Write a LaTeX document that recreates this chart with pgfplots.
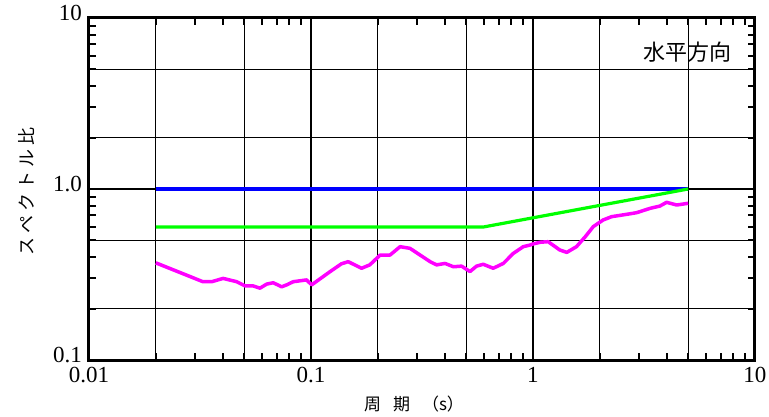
\documentclass[border=0pt]{standalone}
\usepackage{fontspec}
\setmainfont{Liberation Serif}
\newfontfamily\cjk{Noto Sans CJK JP}
\usepackage{pgfplots}
\pgfplotsset{compat=1.18}
\definecolor{cblue}{RGB}{0,0,255}
\definecolor{cgreen}{RGB}{0,255,0}
\definecolor{cmag}{RGB}{255,0,255}
\begin{document}
\begin{tikzpicture}
\begin{axis}[
  scale only axis,
  width=666bp, height=342bp,
  xmode=log, ymode=log,
  xmin=0.01, xmax=10, ymin=0.1, ymax=10,
  xtick={0.01,0.1,1,10}, xticklabels={0.01,0.1,1,10},
  ytick={0.1,1,10}, yticklabels={0.1,1.0,10},
  minor xtick={0.02,0.03,0.04,0.05,0.06,0.07,0.08,0.09,0.2,0.3,0.4,0.5,0.6,0.7,0.8,0.9,2,3,4,5,6,7,8,9},
  minor ytick={0.2,0.3,0.4,0.5,0.6,0.7,0.8,0.9,2,3,4,5,6,7,8,9},
  extra x ticks={0.02,0.05,0.2,0.5,2,5},
  extra y ticks={0.2,0.5,2,5},
  extra x tick labels={}, extra y tick labels={},
  extra tick style={grid=major, major tick length=0pt},
  xmajorgrids, ymajorgrids,
  major grid style={black, line width=1.1bp},
  axis line style={black, line width=3bp},
  every tick/.style={black, line width=2bp},
  major tick length=8bp, minor tick length=7bp,
  tick pos=both,
  /pgf/number format/assume math mode=true,
  tick label style={font=\fontsize{23bp}{27bp}\selectfont, inner sep=1bp},
  yticklabel style={xshift=-6bp, yshift=5bp},
  xticklabel style={yshift=-6bp},
  xlabel={\cjk 周\hspace{12bp}期\hspace{12bp}（s）},
  ylabel={\cjk ス\hspace{4bp}ペ\hspace{4bp}ク\hspace{4bp}ト\hspace{4bp}ル\hspace{4bp}比},
  xlabel style={at={(axis description cs:0.488,-0.1287)}, anchor=center, font=\fontsize{17bp}{20bp}\selectfont},
  ylabel style={at={(axis description cs:-0.0931,0.494)}, anchor=center, font=\fontsize{18bp}{21bp}\selectfont},
]
\addplot[cblue, line width=3.5bp] coordinates {(0.02,1.0) (5,1.0)};
\addplot[cgreen, line width=3.2bp] coordinates {(0.02,0.6) (0.6,0.6) (5,1.0)};
\addplot[cmag, line width=3.5bp, line join=round] coordinates {
(0.02,0.37) (0.0326,0.287) (0.0357,0.287) (0.0402,0.300) (0.0463,0.287)
(0.0505,0.271) (0.055,0.271) (0.0589,0.263) (0.0632,0.278) (0.0676,0.283)
(0.0738,0.268) (0.0777,0.275) (0.0832,0.287) (0.0955,0.294) (0.1007,0.275)
(0.122,0.329) (0.137,0.365) (0.147,0.376) (0.169,0.344) (0.184,0.36)
(0.205,0.411) (0.227,0.411) (0.252,0.46) (0.279,0.45) (0.31,0.411)
(0.344,0.376) (0.368,0.36) (0.402,0.367) (0.438,0.351) (0.477,0.354)
(0.52,0.329) (0.557,0.354) (0.597,0.363) (0.662,0.344) (0.735,0.367)
(0.815,0.42) (0.904,0.46) (0.969,0.47) (1.0,0.477) (1.076,0.488)
(1.17,0.492) (1.32,0.44) (1.42,0.426) (1.57,0.46) (1.72,0.526)
(1.87,0.603) (2.07,0.659) (2.26,0.689) (2.64,0.711) (2.93,0.727)
(3.37,0.771) (3.73,0.795) (4.0,0.836) (4.44,0.806) (5.0,0.825)};
\node[font=\cjk\fontsize{22bp}{26bp}\selectfont, anchor=center] at (axis description cs:0.899,0.9006) {水平方向};
\end{axis}
\pgfresetboundingbox
\path[use as bounding box] (-89bp,-57bp) rectangle (680bp,360bp);
\end{tikzpicture}
\end{document}
